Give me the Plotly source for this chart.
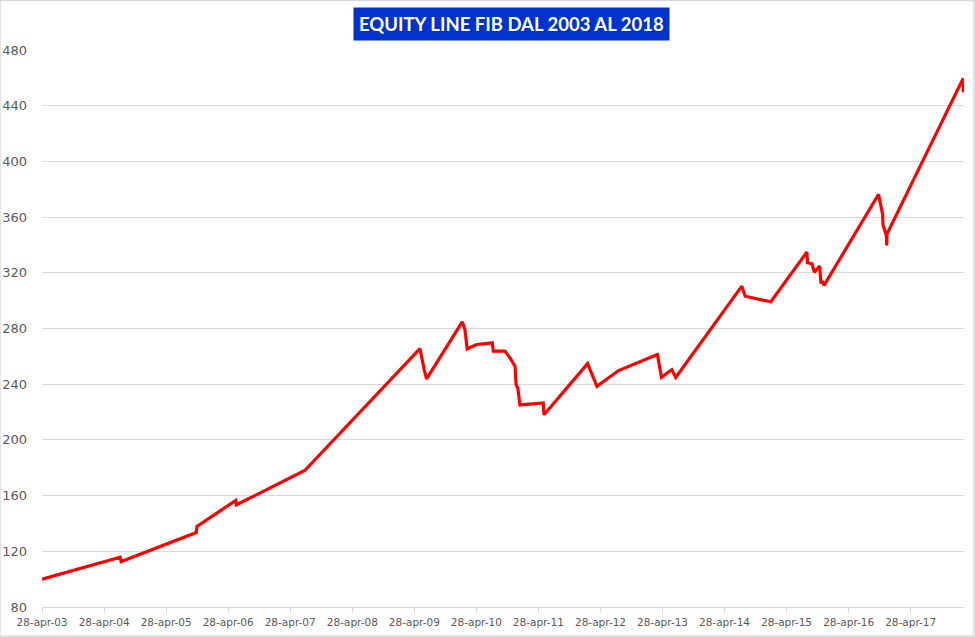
import plotly.graph_objects as go

# --- data ---
dates = [
    "2003-04-28", "2004-07-31", "2004-08-06", "2005-10-22", "2005-10-26",
    "2006-06-11", "2006-06-15", "2007-07-23", "2009-05-31", "2009-06-19",
    "2009-06-25", "2009-07-09", "2010-02-04", "2010-02-20", "2010-03-05",
    "2010-04-30", "2010-07-31", "2010-08-06", "2010-10-14", "2010-11-12",
    "2010-12-12", "2010-12-18", "2010-12-28", "2011-01-10", "2011-05-27",
    "2011-05-31", "2012-02-12", "2012-04-07", "2012-08-12", "2013-03-29",
    "2013-04-22", "2013-06-22", "2013-07-15", "2014-08-08", "2014-08-28",
    "2015-01-26", "2015-08-26", "2015-08-30", "2015-09-25", "2015-10-09",
    "2015-11-09", "2015-11-17", "2015-11-25", "2015-12-05", "2016-10-21",
    "2016-11-14", "2016-11-16", "2016-12-06", "2016-12-08", "2016-12-10",
    "2018-03-03", "2018-03-04",
]
equity = [
    100.0, 115.7, 112.6, 133.5, 137.8,
    156.5, 153.4, 178.0, 265.6, 251.7,
    250.5, 243.8, 284.8, 279.3, 265.4,
    268.5, 269.7, 263.7, 263.7, 258.9,
    252.9, 239.7, 237.3, 225.1, 226.5,
    218.1, 254.8, 238.5, 249.8, 261.3,
    244.9, 250.5, 244.9, 310.4, 303.2,
    299.2, 334.9, 327.2, 326.5, 320.5,
    324.8, 312.4, 314.0, 311.0, 376.4,
    362.0, 354.4, 347.0, 339.7, 348.0,
    459.6, 449.6,
]
tick_dates = [f"{y}-04-28" for y in range(2003, 2018)]
tick_labels = [f"28-apr-{y % 100:02d}" for y in range(2003, 2018)]
y_ticks = list(range(80, 481, 40))
title_text = "EQUITY LINE FIB DAL 2003 AL 2018"

fig = go.Figure()
fig.add_trace(go.Scatter(
    x=dates, y=equity, mode="lines",
    line=dict(color="#FF0000", width=3.2),
    showlegend=False, hoverinfo="x+y",
))

grey_txt = "#595959"
fig.update_layout(
    width=975, height=637,
    margin=dict(l=42, r=11, t=50, b=30),
    paper_bgcolor="white", plot_bgcolor="white",
    font=dict(family="DejaVu Sans", color=grey_txt),
    xaxis=dict(
        type="date",
        range=["2003-04-28", "2018-03-08"],
        tickmode="array", tickvals=tick_dates, ticktext=tick_labels,
        tickfont=dict(size=10.5, color=grey_txt),
        ticks="outside", ticklen=5, tickcolor="#d9d9d9", tickwidth=1,
        showgrid=False, showline=True, linecolor="#d9d9d9", linewidth=1,
        zeroline=False, fixedrange=True, automargin=False,
    ),
    yaxis=dict(
        range=[80, 480],
        tickmode="array", tickvals=y_ticks,
        tickfont=dict(size=13, color=grey_txt),
        showgrid=True, gridcolor="#d9d9d9", gridwidth=1,
        showline=False, zeroline=False, ticks="",
        ticklabelstandoff=14, automargin=False,
    ),
    annotations=[dict(
        text="<b>" + title_text + "</b>",
        xref="paper", yref="paper", x=0.509, y=1.0467,
        xanchor="center", yanchor="middle", showarrow=False,
        font=dict(family="Lato", size=18.5, color="white"),
        bgcolor="#0033CC", borderpad=5,
    )],
    shapes=[dict(
        type="rect", xref="paper", yref="paper",
        x0=-0.0456, x1=1.0108, y0=-0.052, y1=1.0889,
        line=dict(color="#d9d9d9", width=1.5), fillcolor="rgba(0,0,0,0)",
        layer="below",
    )],
)

fig.write_html("out.html")
